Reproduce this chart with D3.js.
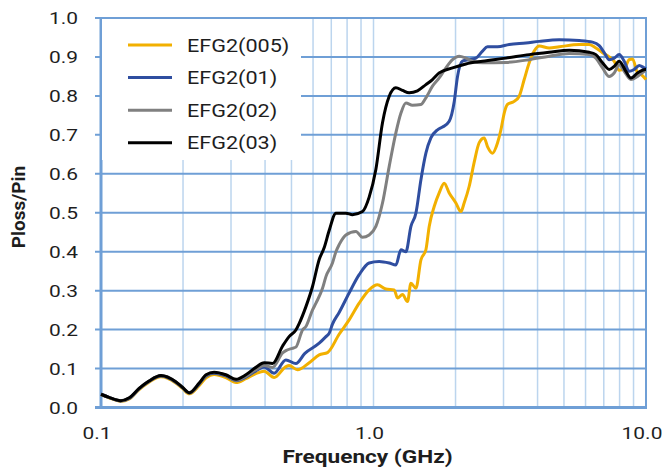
<!DOCTYPE html>
<html><head><meta charset="utf-8">
<script src="https://cdn.jsdelivr.net/npm/d3@7"></script>
<style>body{margin:0;background:#fff}svg{display:block;font-family:Roboto,"Open Sans",sans-serif}</style>
</head><body><svg id="c" width="667" height="469"></svg>
<script>
const seriesNames = ["EFG2(005)", "EFG2(01)", "EFG2(02)", "EFG2(03)"];
const seriesColors = ["#f2b000", "#2f4ea0", "#808080", "#000000"];
const yTicks = [0,0.1,0.2,0.3,0.4,0.5,0.6,0.7,0.8,0.9,1.0];
const xTicks = [0.1, 1, 10];
const xTickLabels = ["0.1", "1.0", "10.0"];

const freq005 = [0.1,0.107,0.118,0.127,0.138,0.15,0.166,0.188,0.199,0.211,0.229,0.243,0.26,0.287,0.313,0.34,0.37,0.397,0.432,0.477,0.49,0.526,0.581,0.632,0.678,0.748,0.814,0.886,0.964,1.034,1.111,1.191,1.225,1.278,1.333,1.372,1.431,1.493,1.557,1.601,1.67,1.742,1.817,1.896,2.006,2.093,2.151,2.245,2.342,2.443,2.548,2.62,2.734,2.851,2.935,3.018,3.102,3.283,3.425,3.573,3.728,3.888,4.056,4.414,4.803,5.687,6.189,6.548,6.925,7.328,7.643,7.974,8.318,8.677,8.923,9.307,9.603,10];
const val005 = [0.033,0.025,0.016,0.022,0.046,0.065,0.079,0.063,0.049,0.035,0.056,0.076,0.085,0.077,0.064,0.074,0.087,0.093,0.077,0.105,0.108,0.097,0.115,0.135,0.141,0.188,0.225,0.268,0.302,0.315,0.304,0.302,0.281,0.29,0.272,0.319,0.306,0.379,0.405,0.465,0.516,0.551,0.576,0.551,0.525,0.503,0.525,0.568,0.63,0.68,0.692,0.67,0.653,0.679,0.713,0.756,0.778,0.786,0.799,0.842,0.885,0.915,0.928,0.923,0.926,0.932,0.932,0.923,0.911,0.9,0.889,0.866,0.87,0.893,0.895,0.86,0.855,0.842];

const freq01 = [0.1,0.107,0.118,0.127,0.138,0.15,0.166,0.188,0.199,0.211,0.229,0.243,0.26,0.287,0.313,0.34,0.37,0.397,0.432,0.477,0.519,0.56,0.632,0.669,0.688,0.707,0.748,0.814,0.886,0.964,1.049,1.142,1.208,1.261,1.315,1.372,1.431,1.493,1.557,1.624,1.718,1.792,1.896,1.978,2.034,2.121,2.245,2.375,2.512,2.62,2.851,3.148,3.624,4.056,4.803,5.687,6.364,6.734,7.025,7.328,7.643,7.974,8.318,8.677,9.051,9.443,9.849,10];
const val01 = [0.034,0.026,0.017,0.023,0.048,0.067,0.081,0.065,0.051,0.037,0.06,0.081,0.088,0.081,0.069,0.078,0.094,0.104,0.088,0.122,0.113,0.139,0.165,0.182,0.191,0.214,0.244,0.294,0.341,0.371,0.375,0.371,0.366,0.405,0.4,0.465,0.499,0.585,0.653,0.692,0.713,0.72,0.735,0.785,0.85,0.889,0.893,0.897,0.915,0.926,0.926,0.932,0.936,0.94,0.944,0.942,0.938,0.929,0.911,0.893,0.897,0.906,0.889,0.863,0.868,0.878,0.872,0.87];

const freq02 = [0.1,0.107,0.118,0.127,0.138,0.15,0.166,0.188,0.199,0.211,0.229,0.243,0.26,0.287,0.313,0.34,0.37,0.397,0.426,0.464,0.477,0.504,0.519,0.549,0.565,0.597,0.615,0.65,0.669,0.707,0.728,0.748,0.792,0.862,0.911,0.964,1.02,1.079,1.142,1.208,1.261,1.315,1.39,1.493,1.557,1.646,1.742,1.844,1.95,2.063,2.183,2.308,2.512,3.061,3.728,4.414,5.227,6.189,6.548,6.925,7.328,7.643,7.974,8.318,8.804,9.307,9.849,10];
const val02 = [0.034,0.026,0.0175,0.024,0.049,0.068,0.082,0.066,0.052,0.038,0.062,0.083,0.09,0.083,0.07,0.08,0.097,0.108,0.103,0.14,0.146,0.152,0.155,0.199,0.208,0.25,0.268,0.306,0.336,0.371,0.4,0.418,0.443,0.452,0.437,0.443,0.465,0.525,0.619,0.705,0.756,0.782,0.776,0.778,0.795,0.825,0.846,0.872,0.893,0.902,0.897,0.889,0.885,0.886,0.893,0.902,0.909,0.906,0.897,0.872,0.85,0.859,0.88,0.863,0.842,0.85,0.863,0.865];

const freq03 = [0.1,0.107,0.118,0.127,0.138,0.15,0.166,0.188,0.199,0.211,0.229,0.243,0.26,0.287,0.313,0.34,0.37,0.397,0.426,0.464,0.49,0.519,0.534,0.565,0.597,0.632,0.659,0.688,0.728,0.792,0.837,0.911,0.964,1.02,1.079,1.142,1.208,1.278,1.352,1.45,1.557,1.646,1.742,1.95,2.183,2.512,3.061,3.728,4.414,5.227,6.189,6.548,6.925,7.328,7.643,7.974,8.438,8.804,9.307,9.93,10];
const val03 = [0.034,0.026,0.0175,0.025,0.049,0.068,0.082,0.066,0.052,0.038,0.062,0.084,0.0905,0.084,0.0725,0.084,0.103,0.115,0.113,0.158,0.182,0.199,0.216,0.259,0.31,0.38,0.41,0.455,0.499,0.499,0.495,0.503,0.54,0.611,0.731,0.799,0.821,0.814,0.808,0.813,0.829,0.842,0.859,0.872,0.882,0.889,0.897,0.906,0.912,0.917,0.912,0.906,0.885,0.868,0.876,0.889,0.863,0.846,0.859,0.868,0.868];

const freqs = [freq005, freq01, freq02, freq03];
const vals = [val005, val01, val02, val03];

const svg = d3.select("#c");
const L = 101, R = 646, T = 18, B = 407.5;
const x = d3.scaleLog().domain([0.1, 10]).range([L, R]);
const y = d3.scaleLinear().domain([0, 1]).range([B, T]);
const gridMajor = "#6f9fd6", gridMinor = "#bcd5ee";

function stext(g, tx, ty, sx, txt, size, anchor, weight) {
  return g.append("text").attr("transform", `translate(${tx},${ty}) scale(${sx},1)`)
    .attr("text-anchor", anchor).attr("font-size", size).attr("font-weight", weight || "normal")
    .attr("fill", "#1e1e1e").text(txt);
}

// minor vertical grid
const minorX = [];
[0.1, 1].forEach(d => { for (let k = 2; k <= 9; k++) minorX.push(d * k); });
minorX.push(1);
svg.append("g").selectAll("line").data(minorX).join("line")
  .attr("x1", d => x(d)).attr("x2", d => x(d)).attr("y1", T).attr("y2", B)
  .attr("stroke", gridMinor).attr("stroke-width", 1.5);

// horizontal grid + y ticks
svg.append("g").selectAll("line").data(yTicks).join("line")
  .attr("x1", L - 6).attr("x2", R).attr("y1", d => y(d)).attr("y2", d => y(d))
  .attr("stroke", gridMajor).attr("stroke-width", 2);

// frame
svg.append("rect").attr("x", L).attr("y", T).attr("width", R - L).attr("height", B - T)
  .attr("fill", "none").attr("stroke", gridMajor).attr("stroke-width", 2);
svg.append("line").attr("x1", L).attr("x2", L).attr("y1", T - 1).attr("y2", B + 1.5)
  .attr("stroke", gridMajor).attr("stroke-width", 3);
svg.append("line").attr("x1", L - 6).attr("x2", R + 1).attr("y1", B).attr("y2", B)
  .attr("stroke", gridMajor).attr("stroke-width", 3);

// legend background
svg.append("rect").attr("x", L + 1).attr("y", T + 1).attr("width", 199).attr("height", 141).attr("fill", "#fff");

// tick labels
const tg = svg.append("g");
yTicks.forEach(d => stext(tg, 78, y(d) + 6.3, 1.27, d3.format(".1f")(d), 16.5, "end"));
xTicks.forEach((d, i) => stext(tg, x(d) - 4, 439.3, 1.27, xTickLabels[i], 16.5, "middle"));

// titles
stext(svg, 367.5, 463.3, 1.19, "Frequency (GHz)", 19, "middle", "bold");
svg.append("text").attr("transform", `translate(25,207) rotate(-90)`).attr("text-anchor", "middle")
  .attr("font-size", 19).attr("font-weight", "bold").attr("fill", "#1e1e1e").text("Ploss/Pin");

// lines
const line = d3.line().x(d => x(d[0])).y(d => y(d[1])).curve(d3.curveMonotoneX);
freqs.forEach((fs, i) => {
  const pts = fs.map((f, j) => [f, vals[i][j]]);
  svg.append("path").datum(pts).attr("d", line).attr("fill", "none")
    .attr("stroke", seriesColors[i]).attr("stroke-width", 3).attr("stroke-linejoin", "round");
});

// legend
const lg = svg.append("g");
seriesNames.forEach((n, i) => {
  const yy = 45 + i * 32.6;
  lg.append("line").attr("x1", 128).attr("x2", 172).attr("y1", yy).attr("y2", yy)
    .attr("stroke", seriesColors[i]).attr("stroke-width", 3);
  stext(lg, 187, yy + 6.5, 1.2, n, 18, "start");
});
</script></body></html>
